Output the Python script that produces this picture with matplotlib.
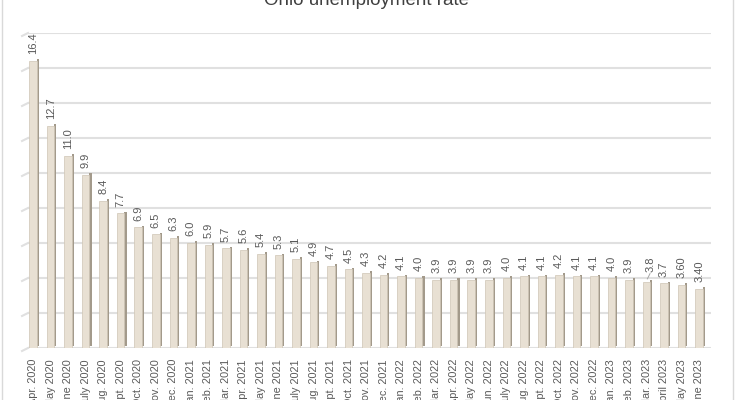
import matplotlib.pyplot as plt
from matplotlib.patches import Rectangle

# Ohio unemployment rate, Apr. 2020 - June 2023
months = ["Apr. 2020", "May 2020", "June 2020", "July 2020", "Aug. 2020", "Sept. 2020",
          "Oct. 2020", "Nov. 2020", "Dec. 2020", "Jan. 2021", "Feb. 2021", "Mar. 2021",
          "Apr. 2021", "May 2021", "June 2021", "July 2021", "Aug. 2021", "Sept. 2021",
          "Oct. 2021", "Nov. 2021", "Dec. 2021", "Jan. 2022", "Feb. 2022", "Mar. 2022",
          "Apr. 2022", "May 2022", "Jun. 2022", "July 2022", "Aug. 2022", "Sept. 2022",
          "Oct. 2022", "Nov. 2022", "Dec. 2022", "Jan. 2023", "Feb. 2023", "Mar. 2023",
          "April 2023", "May 2023", "June 2023"]
rate = [16.4, 12.7, 11.0, 9.9, 8.4, 7.7, 6.9, 6.5, 6.3, 6.0, 5.9, 5.7, 5.6, 5.4, 5.3,
        5.1, 4.9, 4.7, 4.5, 4.3, 4.2, 4.1, 4.0, 3.9, 3.9, 3.9, 3.9, 4.0, 4.1, 4.1, 4.2,
        4.1, 4.1, 4.0, 3.9, 3.8, 3.7, 3.60, 3.40]
rate_labels = ["16.4", "12.7", "11.0", "9.9", "8.4", "7.7", "6.9", "6.5", "6.3", "6.0",
               "5.9", "5.7", "5.6", "5.4", "5.3", "5.1", "4.9", "4.7", "4.5", "4.3", "4.2",
               "4.1", "4.0", "3.9", "3.9", "3.9", "3.9", "4.0", "4.1", "4.1", "4.2", "4.1",
               "4.1", "4.0", "3.9", "3.8", "3.7", "3.60", "3.40"]

FRONT = "#e8e0d3"
SIDE = "#a39a8b"
GRID = "#e0e0e0"
TXT = "#595959"
plt.rcParams['font.family'] = ['Liberation Sans', 'DejaVu Sans']

W, H = 735, 400
fig = plt.figure(figsize=(W / 100, H / 100), dpi=100)
ax = fig.add_axes([28 / W, 1 - 348 / H, (711 - 28) / W, (348 - 33) / H])

x = list(range(len(rate)))
bw = 0.43
sw = 0.12
# side face (depth) then front face
ax.bar([i + bw / 2 + sw / 2 for i in x], rate, width=sw, bottom=0.1, color=SIDE, zorder=2)
ax.bar(x, rate, width=bw, color=FRONT, edgecolor="#cfc5b5", linewidth=0.5, zorder=3)

ax.set_xlim(-0.29, len(rate) - 1 + 0.68)
ax.set_ylim(0, 18)
ax.set_yticks(range(0, 19, 2))
ax.yaxis.grid(True, color=GRID, linewidth=1.5, zorder=0)
ax.set_axisbelow(True)
ax.tick_params(axis="y", length=0, labelleft=False)
ax.set_xticks(x)
ax.set_xticklabels(months, rotation=90, fontsize=7.8, color=TXT)
ax.tick_params(axis="x", length=0, pad=8)
for s in ax.spines.values():
    s.set_visible(False)

# slanted side-wall ends of the gridlines
x0 = ax.get_xlim()[0]
for g in range(0, 19, 2):
    ax.plot([x0 - 0.34, x0], [g - 0.17, g], color=GRID, linewidth=1.5,
            clip_on=False, zorder=0)

# value labels
for i, (v, lab) in enumerate(zip(rate, rate_labels)):
    if lab == "3.8":
        ax.plot([i + 0.05, i + 0.2], [v + 0.15, v + 0.45], color="#a6a6a6",
                linewidth=0.7, zorder=4)
        ax.text(i + 0.25, v + 0.55, lab, rotation=90, ha="center", va="bottom",
                fontsize=8, color=TXT)
    else:
        ax.text(i, v + 0.38, lab, rotation=90, ha="center", va="bottom",
                fontsize=8, color=TXT)

fig.text(367 / W, 1 - 5 / H, "Ohio unemployment rate", ha="center", va="baseline",
         fontsize=13.5, color="#404040")

fig.patches.append(Rectangle((1.5 / W, -0.1), (733 - 1.5) / W, 1.3, fill=False,
                             edgecolor="#d9d9d9", linewidth=1, transform=fig.transFigure))

fig.savefig("out.png", dpi=100)
